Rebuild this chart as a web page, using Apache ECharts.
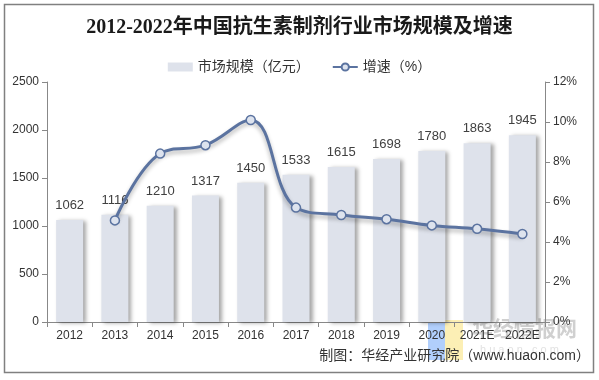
<!DOCTYPE html>
<html>
<head>
<meta charset="utf-8">
<script src="https://cdn.jsdelivr.net/npm/echarts@6/dist/echarts.min.js"></script>
<style>html,body{margin:0;padding:0;background:#fff}#c{width:599px;height:380px}</style>
</head>
<body>
<div id="c"></div>
<script>
var categories = ['2012','2013','2014','2015','2016','2017','2018','2019','2020','2021E','2022E'];
var marketSize = [1062,1116,1210,1317,1450,1533,1615,1698,1780,1863,1945];
var growthRate = [null,5.08,8.42,8.84,10.10,5.72,5.35,5.14,4.83,4.66,4.40];
var leftTicks = {min:0, max:2500, interval:500};
var rightTicks = {min:0, max:12, interval:2};

var chart = echarts.init(document.getElementById('c'), null, {renderer:'canvas'});
var font = '"Liberation Sans", Arial, "Noto Sans CJK SC", sans-serif';
chart.setOption({
  backgroundColor:'#fff',
  animation:false,
  title:{
    text:'2012-2022年中国抗生素制剂行业市场规模及增速',
    left:'center', top:13,
    textStyle:{fontSize:20, fontWeight:'bold', color:'#1a1a1a', fontFamily:'"Liberation Serif", "Noto Sans CJK SC", serif'}
  },
  legend:{
    top:55, left:'center', itemGap:22,
    textStyle:{fontSize:14, color:'#333', fontFamily:font},
    data:[
      {name:'市场规模（亿元）', icon:'rect', itemStyle:{color:'#dee2eb'}},
      {name:'增速（%）'}
    ],
    itemWidth:25, itemHeight:9
  },
  grid:{left:47, right:54, top:82, bottom:58},
  xAxis:{
    type:'category', data:categories,
    axisLine:{lineStyle:{color:'#888'}},
    axisTick:{show:true, interval:0, lineStyle:{color:'#888'}},
    axisLabel:{color:'#333', fontSize:12, fontFamily:font, margin:8, interval:0}
  },
  yAxis:[
    {type:'value', min:leftTicks.min, max:leftTicks.max, interval:leftTicks.interval,
     axisLine:{show:true, lineStyle:{color:'#888'}}, axisTick:{show:true, lineStyle:{color:'#888'}},
     splitLine:{show:false}, axisLabel:{color:'#333', fontSize:12, fontFamily:font, margin:8, formatter:function(v){return String(v);}}},
    {type:'value', min:rightTicks.min, max:rightTicks.max, interval:rightTicks.interval,
     axisLine:{show:true, lineStyle:{color:'#888'}}, axisTick:{show:true, lineStyle:{color:'#888'}},
     splitLine:{show:false}, axisLabel:{color:'#333', fontSize:12, fontFamily:font, margin:8, formatter:'{value}%'}}
  ],
  series:[
    {name:'市场规模（亿元）', type:'bar', data:marketSize, barWidth:27,
     itemStyle:{color:'#dee2eb', shadowColor:'rgba(0,0,0,0.35)', shadowBlur:4, shadowOffsetX:3, shadowOffsetY:1},
     label:{show:true, position:'top', distance:8, color:'#404040', fontSize:13, fontFamily:font}},
    {name:'增速（%）', type:'line', yAxisIndex:1, data:growthRate, smooth:0.4, connectNulls:false,
     symbol:'circle', symbolSize:9,
     lineStyle:{color:'#5b73a0', width:3, shadowColor:'rgba(0,0,0,0.3)', shadowBlur:4, shadowOffsetY:3},
     itemStyle:{color:'#dde3ee', borderColor:'#5b73a0', borderWidth:1.5}}
  ],
  graphic:[
    {type:'rect', shape:{x:4.5, y:4.5, width:589, height:368}, style:{fill:null, stroke:'#808080', lineWidth:1.5}, z:100},
    {type:'rect', shape:{x:428, y:320, width:17, height:40}, style:{fill:'rgba(100,160,250,0.5)'}, z:0},
    {type:'rect', shape:{x:445, y:320, width:18, height:40}, style:{fill:'rgba(250,225,120,0.55)'}, z:0},
    {type:'text', left:472, top:318, style:{text:'华经情报网', fontSize:21, fontWeight:'bold', fill:'rgba(150,150,150,0.45)', fontFamily:'"Noto Sans CJK SC", sans-serif'}, z:0},
    {type:'text', left:480, top:344, style:{text:'h u a o n . c o m', fontSize:11, fill:'rgba(170,170,170,0.35)', fontFamily:font}, z:0},
    {type:'text', right:9, top:349, style:{text:'制图：华经产业研究院（www.huaon.com）', fontSize:14, fill:'#333', fontFamily:'"Liberation Sans", "Noto Sans CJK SC", sans-serif'}, z:50}
  ]
});
</script>
</body>
</html>
